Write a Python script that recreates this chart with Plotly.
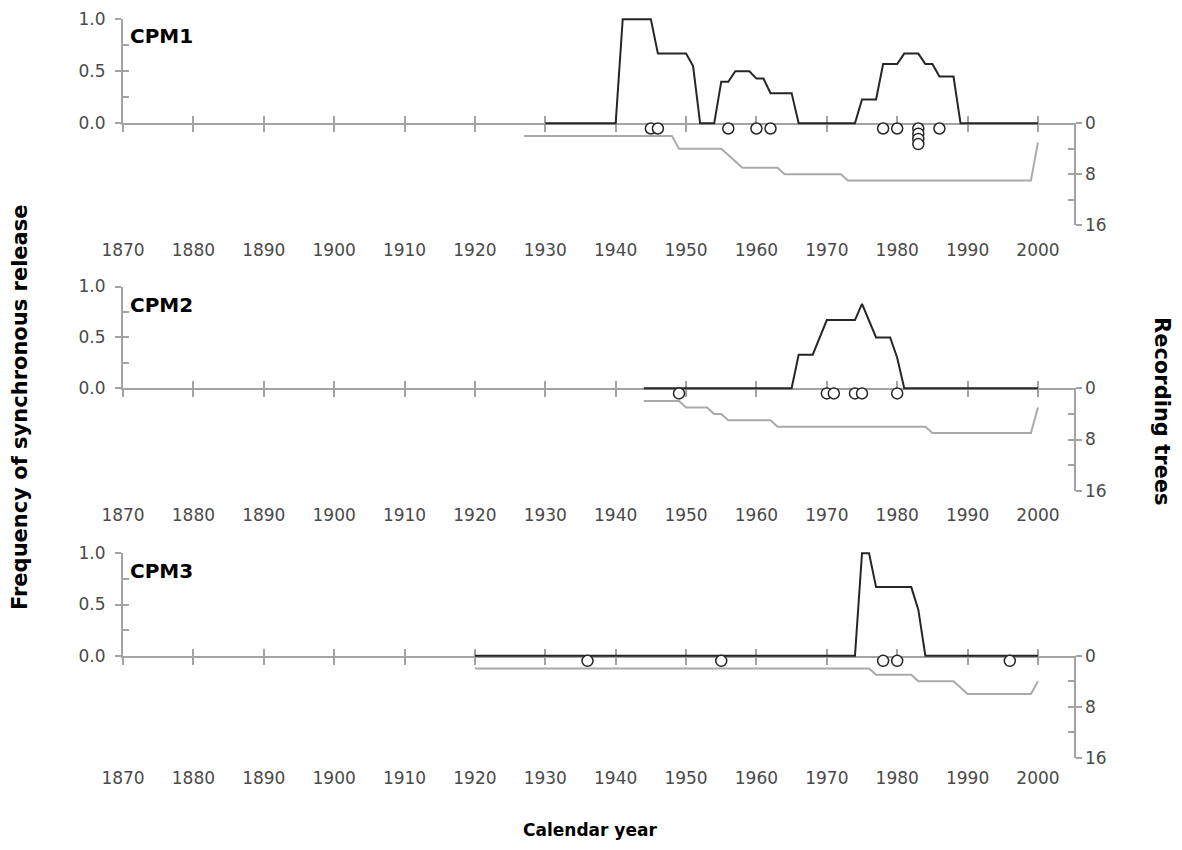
import plotly.graph_objects as go

# ------------------------------------------------------------------ data
decades = [1870, 1880, 1890, 1900, 1910, 1920, 1930, 1940, 1950, 1960, 1970, 1980, 1990, 2000]
decade_labels = [str(d) for d in decades]

# CPM1 -----------------------------------------------------------------
cpm1_freq_years = list(range(1930, 2001))
cpm1_freq = [
    0, 0, 0, 0, 0, 0, 0, 0, 0, 0,                      # 1930-1939
    0, 1.0, 1.0, 1.0, 1.0, 1.0, 0.67, 0.67, 0.67, 0.67,  # 1940-1949
    0.67, 0.55, 0, 0, 0, 0.40, 0.40, 0.50, 0.50, 0.50,   # 1950-1959
    0.43, 0.43, 0.29, 0.29, 0.29, 0.29, 0, 0, 0, 0,      # 1960-1969
    0, 0, 0, 0, 0, 0.23, 0.23, 0.23, 0.57, 0.57,         # 1970-1979
    0.57, 0.67, 0.67, 0.67, 0.57, 0.57, 0.45, 0.45, 0.45, 0,  # 1980-1989
    0, 0, 0, 0, 0, 0, 0, 0, 0, 0,                      # 1990-1999
    0,                                                 # 2000
]
cpm1_tree_years = list(range(1927, 2001))
cpm1_trees = [
    2, 2, 2,                                           # 1927-1929
    2, 2, 2, 2, 2, 2, 2, 2, 2, 2,                      # 1930-1939
    2, 2, 2, 2, 2, 2, 2, 2, 2, 4,                      # 1940-1949
    4, 4, 4, 4, 4, 4, 5, 6, 7, 7,                      # 1950-1959
    7, 7, 7, 7, 8, 8, 8, 8, 8, 8,                      # 1960-1969
    8, 8, 8, 9, 9, 9, 9, 9, 9, 9,                      # 1970-1979
    9, 9, 9, 9, 9, 9, 9, 9, 9, 9,                      # 1980-1989
    9, 9, 9, 9, 9, 9, 9, 9, 9, 9,                      # 1990-1999
    3,                                                 # 2000
]
cpm1_release_years = [1945, 1946, 1956, 1960, 1962, 1978, 1980, 1983, 1983, 1983, 1983, 1986]
cpm1_release_level = [-0.05, -0.05, -0.05, -0.05, -0.05, -0.05, -0.05, -0.05, -0.10, -0.15, -0.20, -0.05]

# CPM2 -----------------------------------------------------------------
cpm2_freq_years = list(range(1944, 2001))
cpm2_freq = [
    0, 0, 0, 0, 0, 0,                                  # 1944-1949
    0, 0, 0, 0, 0, 0, 0, 0, 0, 0,                      # 1950-1959
    0, 0, 0, 0, 0, 0, 0.33, 0.33, 0.33, 0.50,          # 1960-1969
    0.67, 0.67, 0.67, 0.67, 0.67, 0.83, 0.67, 0.50, 0.50, 0.50,  # 1970-1979
    0.30, 0, 0, 0, 0, 0, 0, 0, 0, 0,                   # 1980-1989
    0, 0, 0, 0, 0, 0, 0, 0, 0, 0,                      # 1990-1999
    0,                                                 # 2000
]
cpm2_tree_years = list(range(1944, 2001))
cpm2_trees = [
    2, 2, 2, 2, 2, 2,                                  # 1944-1949
    3, 3, 3, 3, 4, 4, 5, 5, 5, 5,                      # 1950-1959
    5, 5, 5, 6, 6, 6, 6, 6, 6, 6,                      # 1960-1969
    6, 6, 6, 6, 6, 6, 6, 6, 6, 6,                      # 1970-1979
    6, 6, 6, 6, 6, 7, 7, 7, 7, 7,                      # 1980-1989
    7, 7, 7, 7, 7, 7, 7, 7, 7, 7,                      # 1990-1999
    3,                                                 # 2000
]
cpm2_release_years = [1949, 1970, 1971, 1974, 1975, 1980]
cpm2_release_level = [-0.05, -0.05, -0.05, -0.05, -0.05, -0.05]

# CPM3 -----------------------------------------------------------------
cpm3_freq_years = list(range(1920, 2001))
cpm3_freq = [
    0, 0, 0, 0, 0, 0, 0, 0, 0, 0,                      # 1920-1929
    0, 0, 0, 0, 0, 0, 0, 0, 0, 0,                      # 1930-1939
    0, 0, 0, 0, 0, 0, 0, 0, 0, 0,                      # 1940-1949
    0, 0, 0, 0, 0, 0, 0, 0, 0, 0,                      # 1950-1959
    0, 0, 0, 0, 0, 0, 0, 0, 0, 0,                      # 1960-1969
    0, 0, 0, 0, 0, 1.0, 1.0, 0.67, 0.67, 0.67,         # 1970-1979
    0.67, 0.67, 0.67, 0.45, 0, 0, 0, 0, 0, 0,          # 1980-1989
    0, 0, 0, 0, 0, 0, 0, 0, 0, 0,                      # 1990-1999
    0,                                                 # 2000
]
cpm3_tree_years = list(range(1920, 2001))
cpm3_trees = [
    2, 2, 2, 2, 2, 2, 2, 2, 2, 2,                      # 1920-1929
    2, 2, 2, 2, 2, 2, 2, 2, 2, 2,                      # 1930-1939
    2, 2, 2, 2, 2, 2, 2, 2, 2, 2,                      # 1940-1949
    2, 2, 2, 2, 2, 2, 2, 2, 2, 2,                      # 1950-1959
    2, 2, 2, 2, 2, 2, 2, 2, 2, 2,                      # 1960-1969
    2, 2, 2, 2, 2, 2, 2, 3, 3, 3,                      # 1970-1979
    3, 3, 3, 4, 4, 4, 4, 4, 4, 5,                      # 1980-1989
    6, 6, 6, 6, 6, 6, 6, 6, 6, 6,                      # 1990-1999
    4,                                                 # 2000
]
cpm3_release_years = [1936, 1955, 1978, 1980, 1996]
cpm3_release_level = [-0.05, -0.05, -0.05, -0.05, -0.05]

panel_names = ["CPM1", "CPM2", "CPM3"]
freq_ticks = [0, 0.5, 1.0]
freq_ticktext = ["0.0", "0.5", "1.0"]
freq_minor = [0.25, 0.75]
tree_ticks = [0, 8, 16]
tree_minor = [4, 12]

# ------------------------------------------------------------------ layout geometry (pixels)
W, H = 1182, 850
X0_PX, X1_PX = 123.0, 1073.5
XRANGE = [1870, 2005.05]
geom = [
    dict(zero=123.3, one=19.3, t16=225.0, lab=250, cpm=36),
    dict(zero=388.3, one=286.5, t16=490.7, lab=515, cpm=305),
    dict(zero=655.7, one=553.3, t16=757.7, lab=778, cpm=571),
]

AX = "#a3a3a3"
LINE = "#262626"
TREE = "#aaaaaa"
TICKFONT = dict(family="DejaVu Sans", size=17, color="#4a4a4a")


def fx(px):
    return px / W


def fy(py):
    return 1 - py / H


def axkey(p, n):
    return f"{p}axis" if n == 1 else f"{p}axis{n}"


def ref(p, n):
    return p if n == 1 else f"{p}{n}"


series = [
    (cpm1_freq_years, cpm1_freq, cpm1_tree_years, cpm1_trees, cpm1_release_years, cpm1_release_level),
    (cpm2_freq_years, cpm2_freq, cpm2_tree_years, cpm2_trees, cpm2_release_years, cpm2_release_level),
    (cpm3_freq_years, cpm3_freq, cpm3_tree_years, cpm3_trees, cpm3_release_years, cpm3_release_level),
]

fig = go.Figure()
layout = {}
annotations = []

for i, (g, s) in enumerate(zip(geom, series)):
    xa, xl, xi = 3 * i + 1, 3 * i + 2, 3 * i + 3
    yf, yfi, yt, yti, yd = 5 * i + 1, 5 * i + 2, 5 * i + 3, 5 * i + 4, 5 * i + 5

    common_x = dict(range=XRANGE, showgrid=False, zeroline=False, fixedrange=True,
                    tickmode="array", tickvals=decades)
    layout[axkey("x", xa)] = dict(common_x, domain=[fx(X0_PX), fx(X1_PX)], anchor=ref("y", yf),
                                  showline=True, linecolor=AX, linewidth=2,
                                  ticks="outside", ticklen=7, tickwidth=1.5, tickcolor=AX,
                                  showticklabels=False)
    layout[axkey("x", xl)] = dict(common_x, overlaying=ref("x", xa), anchor="free",
                                  position=fy(g["lab"] - 12), showline=False, ticks="",
                                  ticktext=decade_labels, tickfont=TICKFONT, side="bottom")
    layout[axkey("x", xi)] = dict(common_x, overlaying=ref("x", xa), anchor=ref("y", yf),
                                  showline=False, ticks="inside", ticklen=7, tickwidth=1.5,
                                  tickcolor=AX, showticklabels=False)

    layout[axkey("y", yf)] = dict(domain=[fy(g["zero"]), fy(g["one"])], range=[0, 1],
                                  anchor=ref("x", xa), showline=True, linecolor=AX, linewidth=2,
                                  ticks="outside", ticklen=6, tickwidth=1.5, tickcolor=AX,
                                  tickmode="array", tickvals=freq_ticks, ticktext=freq_ticktext,
                                  tickfont=TICKFONT, ticklabelstandoff=6,
                                  showgrid=False, zeroline=False, fixedrange=True)
    layout[axkey("y", yfi)] = dict(overlaying=ref("y", yf), range=[0, 1], anchor=ref("x", xa),
                                   showline=False, ticks="inside", ticklen=6, tickwidth=1.5,
                                   tickcolor=AX, tickmode="array", tickvals=freq_ticks,
                                   showticklabels=False, showgrid=False, zeroline=False,
                                   minor=dict(ticks="inside", ticklen=6, tickwidth=1.5, tickcolor=AX,
                                              tickmode="array", tickvals=freq_minor, showgrid=False),
                                   fixedrange=True)
    layout[axkey("y", yt)] = dict(domain=[fy(g["t16"]), fy(g["zero"])], range=[16, 0],
                                  anchor=ref("x", xa), side="right", showline=True, linecolor=AX,
                                  linewidth=2, ticks="outside", ticklen=6, tickwidth=1.5,
                                  tickcolor=AX, tickmode="array", tickvals=tree_ticks,
                                  tickfont=TICKFONT, showgrid=False, zeroline=False, fixedrange=True)
    layout[axkey("y", yti)] = dict(overlaying=ref("y", yt), range=[16, 0], anchor=ref("x", xa),
                                   side="right", showline=False, ticks="inside", ticklen=6,
                                   tickwidth=1.5, tickcolor=AX, tickmode="array",
                                   tickvals=tree_ticks, showticklabels=False, showgrid=False,
                                   zeroline=False,
                                   minor=dict(ticks="inside", ticklen=6, tickwidth=1.5, tickcolor=AX,
                                              tickmode="array", tickvals=tree_minor, showgrid=False),
                                   fixedrange=True)
    # invisible data axis for the frequency series (same scale as yf, larger area, no clipping)
    top_px, bot_px = g["one"] - 12, g["t16"]
    span = g["zero"] - g["one"]
    layout[axkey("y", yd)] = dict(domain=[fy(bot_px), fy(top_px)],
                                  range=[(g["zero"] - bot_px) / span, (g["zero"] - top_px) / span],
                                  anchor=ref("x", xa), visible=False, fixedrange=True)

    fyears, fvals, tyears, tvals, ryears, rlev = s
    fig.add_trace(go.Scatter(x=tyears, y=tvals, mode="lines",
                             line=dict(color=TREE, width=2),
                             xaxis=ref("x", xa), yaxis=ref("y", yt),
                             showlegend=False, hoverinfo="skip"))
    fig.add_trace(go.Scatter(x=fyears, y=fvals, mode="lines",
                             line=dict(color=LINE, width=2),
                             xaxis=ref("x", xa), yaxis=ref("y", yd),
                             showlegend=False, hoverinfo="skip"))
    fig.add_trace(go.Scatter(x=ryears, y=rlev, mode="markers",
                             marker=dict(symbol="circle", size=11, color="white",
                                         line=dict(color=LINE, width=1.5)),
                             xaxis=ref("x", xa), yaxis=ref("y", yd), cliponaxis=False,
                             showlegend=False, hoverinfo="skip"))
    # placeholders so every decorative axis gets drawn
    for xx, yy in [(xl, yf), (xi, yf), (xa, yfi), (xa, yti), (xa, yf)]:
        fig.add_trace(go.Scatter(x=[None], y=[None], mode="lines", xaxis=ref("x", xx),
                                 yaxis=ref("y", yy), showlegend=False, hoverinfo="skip"))

    annotations.append(dict(text=f"<b>{panel_names[i]}</b>", x=fx(128), y=fy(g["cpm"]),
                            xref="paper", yref="paper", xanchor="left", yanchor="middle",
                            showarrow=False, font=dict(family="DejaVu Sans", size=20, color="black")))

TITLEFONT = dict(family="DejaVu Sans", size=21, color="black")
annotations += [
    dict(text="<b>Frequency of synchronous release</b>", textangle=-90, x=fx(20), y=fy(407),
         xref="paper", yref="paper", xanchor="center", yanchor="middle", showarrow=False,
         font=TITLEFONT),
    dict(text="<b>Recording trees</b>", textangle=90, x=fx(1162), y=fy(411),
         xref="paper", yref="paper", xanchor="center", yanchor="middle", showarrow=False,
         font=TITLEFONT),
    dict(text="<b>Calendar year</b>", x=fx(590), y=fy(830),
         xref="paper", yref="paper", xanchor="center", yanchor="middle", showarrow=False,
         font=dict(family="DejaVu Sans", size=17, color="black")),
]

fig.update_layout(
    width=W, height=H, margin=dict(l=0, r=0, t=0, b=0, autoexpand=False),
    paper_bgcolor="white", plot_bgcolor="rgba(0,0,0,0)",
    showlegend=False, annotations=annotations, **layout,
)

fig.write_html("out.html", config={"displayModeBar": False},
               post_script="document.body.style.margin='0';document.body.style.overflow='hidden';")
